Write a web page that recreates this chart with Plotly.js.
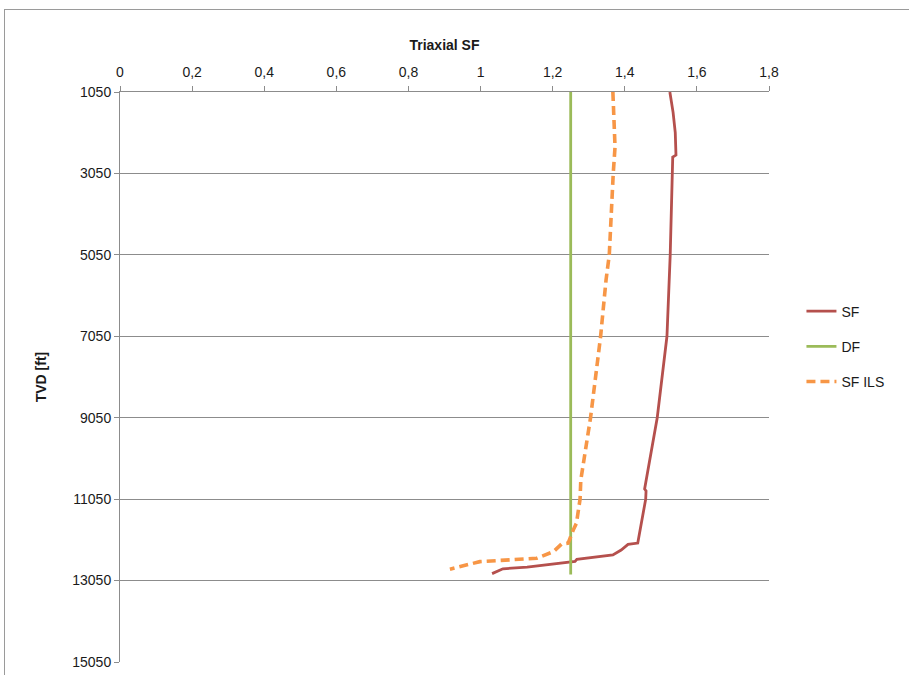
<!DOCTYPE html>
<html>
<head>
<meta charset="utf-8">
<script src="https://cdn.plot.ly/plotly-3.0.1.min.js"></script>
<style>
  html, body { margin: 0; padding: 0; background: #fff; overflow: hidden; }
  #wrap { position: relative; width: 909px; height: 675px; }
  #chart { position: absolute; left: 0; top: 0; width: 909px; height: 675px; }
  #frame { position: absolute; left: 4px; top: 9px; width: 1000px; height: 1000px;
           border: 1px solid #9a9a9a; pointer-events: none; }
</style>
</head>
<body>
<div id="wrap">
  <div id="chart"></div>
  <div id="frame"></div>
</div>
<script>
// True vertical depth (ft) and triaxial safety factor per series
const sfDepth = [1050, 1550, 2050, 2600, 2650, 3050, 5050, 7050, 9050, 10800, 10850, 11050,
                 12130, 12160, 12300, 12420, 12530, 12580, 12720, 12760, 12880];
const sfValue = [1.525, 1.534, 1.540, 1.542, 1.533, 1.532, 1.526, 1.517, 1.490, 1.455, 1.459, 1.458,
                 1.436, 1.409, 1.390, 1.367, 1.267, 1.262, 1.129, 1.062, 1.032];

const dfDepth = [1050, 12900];
const dfValue = [1.25, 1.25];

const ilsDepth = [1050, 1550, 2400, 3050, 5050, 5670, 7050, 9050, 10580, 11050, 11640, 11810,
                  12130, 12150, 12340, 12500, 12545, 12585, 12770];
const ilsValue = [1.367, 1.370, 1.373, 1.368, 1.357, 1.348, 1.333, 1.305, 1.278, 1.276, 1.266, 1.257,
                  1.243, 1.225, 1.202, 1.156, 1.063, 0.998, 0.915];

// Axis ticks (comma decimal separator)
const xTickVals = [0, 0.2, 0.4, 0.6, 0.8, 1, 1.2, 1.4, 1.6, 1.8];
const xTickText = ['0', '0,2', '0,4', '0,6', '0,8', '1', '1,2', '1,4', '1,6', '1,8'];
const yTickVals = [1050, 3050, 5050, 7050, 9050, 11050, 13050, 15050];
const yTickText = ['1050', '3050', '5050', '7050', '9050', '11050', '13050', '15050'];

const FONT = '"Liberation Sans", Arial, sans-serif';
const TXT = '#1a1a1a';
const GRID = '#8c8c8c';

const traces = [
  { name: 'SF', x: sfValue, y: sfDepth, mode: 'lines', legendgroup: 'a',
    line: { color: '#B5504D', width: 2.8 } },
  { name: 'DF', x: dfValue, y: dfDepth, mode: 'lines', legendgroup: 'b',
    line: { color: '#9BBB59', width: 2.8 } },
  { name: 'SF ILS', x: ilsValue, y: ilsDepth, mode: 'lines', legendgroup: 'c',
    line: { color: '#F79646', width: 3.6, dash: '9px,5px' } }
];

const layout = {
  width: 909, height: 675,
  margin: { l: 120, r: 140, t: 92, b: 13, autoexpand: false },
  paper_bgcolor: '#fff', plot_bgcolor: '#fff',
  font: { family: FONT, size: 14, color: TXT },
  showlegend: true,
  legend: {
    x: 1.05, xanchor: 'left', y: 0.643, yanchor: 'top',
    traceorder: 'grouped', tracegroupgap: 14,
    font: { family: FONT, size: 14, color: TXT },
    bgcolor: 'rgba(0,0,0,0)'
  },
  xaxis: {
    side: 'top', range: [0, 1.8],
    tickmode: 'array', tickvals: xTickVals, ticktext: xTickText,
    ticks: 'outside', ticklen: 5, tickcolor: GRID, ticklabelstandoff: 3,
    showline: true, linecolor: GRID, linewidth: 1,
    showgrid: false, zeroline: false,
    tickfont: { family: FONT, size: 14, color: TXT },
    title: { text: '<b>Triaxial SF</b>', standoff: 10,
             font: { family: FONT, size: 14, color: TXT } }
  },
  yaxis: {
    range: [15050, 1050],
    tickmode: 'array', tickvals: yTickVals, ticktext: yTickText,
    ticks: 'outside', ticklen: 5, tickcolor: GRID,
    showline: true, linecolor: GRID, linewidth: 1,
    showgrid: true, gridcolor: GRID, gridwidth: 1, zeroline: false,
    tickfont: { family: FONT, size: 14, color: TXT },
    title: { text: '<b>TVD [ft]</b>', standoff: 22,
             font: { family: FONT, size: 14, color: TXT } }
  }
};

Plotly.newPlot('chart', traces, layout, { displayModeBar: false, staticPlot: true });
</script>
</body>
</html>
